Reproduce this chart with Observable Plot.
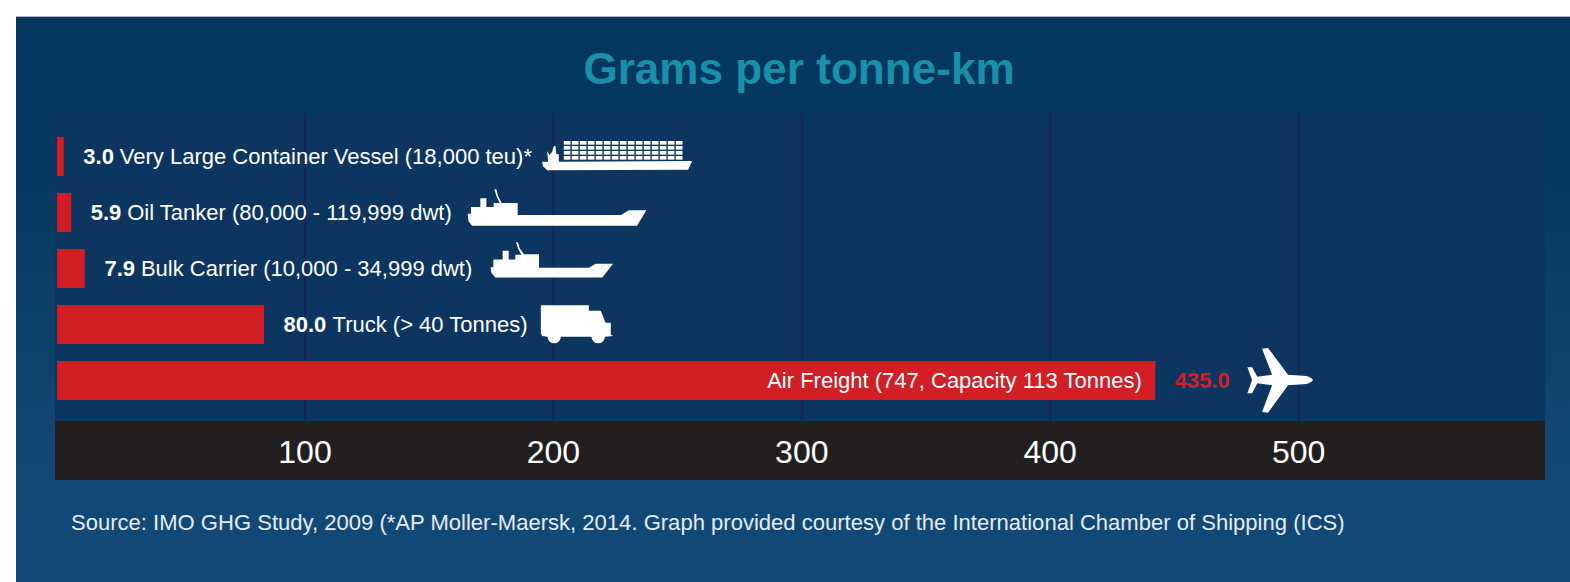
<!DOCTYPE html>
<html>
<head>
<meta charset="utf-8">
<script src="https://cdn.jsdelivr.net/npm/d3@7"></script>
<script src="https://cdn.jsdelivr.net/npm/@observablehq/plot@0.6"></script>
<style>
  html, body { margin: 0; padding: 0; background: #fff; }
  #page { position: relative; width: 1570px; height: 582px; overflow: hidden; font-family: "Liberation Sans", Arial, sans-serif; }
  #panel { position: absolute; left: 16px; top: 16px; right: 0; bottom: 0; background: linear-gradient(to bottom, #03375f 0%, #06395f 25%, #0f4570 70%, #144a78 100%); border-top: 1px solid #a9b8c4; box-sizing: border-box; }
  #title { position: absolute; left: 0; top: 41px; width: 1598px; text-align: center; font-size: 44.1px; font-weight: bold; color: #1a8fa9; line-height: 56px; white-space: nowrap; }
  #chart { position: absolute; left: 55px; top: 113px; }
  #chart svg { background: linear-gradient(to bottom, #0c3660 0, #0c3660 308px, #231f20 308px, #231f20 100%); display: block; }
  #source { position: absolute; left: 71px; top: 511px; font-size: 22.05px; line-height: 24px; color: #e4ecf2; white-space: nowrap; }
</style>
</head>
<body>
<div id="page">
  <div id="panel"></div>
  <div id="title"></div>
  <div id="chart"></div>
  <div id="source"></div>
</div>
<script>
const titleText = "Grams per tonne-km";
const sourceText = "Source: IMO GHG Study, 2009 (*AP Moller-Maersk, 2014. Graph provided courtesy of the International Chamber of Shipping (ICS)";

const modes = [
  "Very Large Container Vessel (18,000 teu)*",
  "Oil Tanker (80,000 - 119,999 dwt)",
  "Bulk Carrier (10,000 - 34,999 dwt)",
  "Truck (> 40 Tonnes)",
  "Air Freight (747, Capacity 113 Tonnes)"
];
// The printed figures
const printedValues = [3.0, 5.9, 7.9, 80.0, 435.0];
// Bar lengths as drawn in the picture, read against the axis
const barLengths = [3.1, 6.1, 11.6, 83.7, 442.5];
// Where each icon sits, read against the axis
const iconCentres = [226, 201.8, 198.9, 209.3, 492.4];
const axisTicks = [100, 200, 300, 400, 500];

const containerCells = d3.range(15).flatMap(c => d3.range(4).map(r =>
  `<rect x="${85 + c * 24}" y="${30 + r * 15}" width="20" height="11" fill="#fff"/>`)).join("");
const iconArt = [
  { vb: [495, 150], body: `<path d="M20 92L38 92L35 60L42 72L50 62L55 45L60 45L62 68L70 70L70 92L470 90L458 116L35 118L22 105Z" fill="#fff"/>` + containerCells },
  { vb: [585, 186], body: `<path d="M22 98L32 98L32 78L60 78L60 52L78 52L78 78L100 78L100 66L118 66L108 45L102 25L108 25L113 45L124 66L172 66L172 102L482 102L505 88L558 88L530 134L35 134L24 120Z" fill="#fff"/>` },
  { vb: [420, 195], body: `<path d="M30 95L38 95L38 72L66 72L66 46L84 46L84 72L104 72L104 58L122 58L112 38L106 20L112 20L117 38L130 56L175 56L175 97L325 97L345 85L397 85L365 126L44 126L32 112Z" fill="#fff"/>` },
  { vb: [270, 144], body: `<path d="M28 16L172 16L172 32L208 32L222 68L238 68L238 104L246 108L220 110A20 20 0 0 1 180 110L88 110A20 20 0 0 1 48 110L32 108L28 100Z" fill="#fff"/>` },
  { vb: [270, 240], body: `<path d="M235 120Q230 112 215 108L160 104L100 24L82 26L112 104L68 110L52 82L38 82L52 120L38 160L52 160L68 130L112 136L82 216L100 218L160 136L215 132Q230 128 235 120Z" fill="#fff"/>` }
];
const iconSrc = a => "data:image/svg+xml," + encodeURIComponent(
  `<svg xmlns="http://www.w3.org/2000/svg" width="${a.vb[0]}" height="${a.vb[1]}" viewBox="0 0 ${a.vb[0]} ${a.vb[1]}">${a.body}</svg>`);

const rows = modes.map((mode, i) => ({
  mode,
  printed: printedValues[i].toFixed(1),
  length: barLengths[i],
  iconAt: iconCentres[i],
  src: iconSrc(iconArt[i]),
  iconW: iconArt[i].vb[0] / 3,
  iconH: iconArt[i].vb[1] / 3,
  inside: i === modes.length - 1
}));
const outside = rows.filter(d => !d.inside);

const font = "'Liberation Sans', Arial, sans-serif";
const labelSize = 22;
const chart = Plot.plot({
  width: 1490,
  height: 367,
  marginLeft: 1.1,
  marginRight: 0,
  marginTop: 0,
  marginBottom: 59,
  style: { background: null, fontFamily: font },
  x: { domain: [0, 599.4], label: null },
  y: { domain: modes, range: [14.6, 295.8], paddingInner: 0.298, paddingOuter: 0.149, axis: null, label: null },
  marks: [
    Plot.ruleX(axisTicks, { stroke: "#1c2358", strokeWidth: 2 }),
    Plot.barX(rows, { x: "length", y: "mode", fill: "#d21f26", insetLeft: 1 }),
    Plot.image(rows, { x: "iconAt", y: "mode", dy: -1, src: "src", width: "iconW", height: "iconH", preserveAspectRatio: "none" }),
    Plot.text(rows, { x: "length", y: "mode", text: "printed", dx: 19, textAnchor: "start", fontSize: labelSize, fontWeight: "bold", fill: d => d.inside ? "#d21f26" : "#fff" }),
    Plot.text(outside.filter(d => d.printed.length === 3), { x: "length", y: "mode", text: "mode", dx: 55.5, textAnchor: "start", fontSize: labelSize, fill: "#fff" }),
    Plot.text(outside.filter(d => d.printed.length === 4), { x: "length", y: "mode", text: "mode", dx: 68, textAnchor: "start", fontSize: labelSize, fill: "#fff" }),
    Plot.text(rows.filter(d => d.inside), { x: "length", y: "mode", text: "mode", dx: -14, textAnchor: "end", fontSize: labelSize, fill: "#fff" }),
    Plot.axisX({ ticks: axisTicks, anchor: "bottom", tickSize: 0, tickPadding: 19, fontSize: 32, fill: "#fff", label: null, lineAnchor: "top" })
  ]
});
document.getElementById("chart").appendChild(chart);
document.getElementById("title").textContent = titleText;
document.getElementById("source").textContent = sourceText;
</script>
</body>
</html>
